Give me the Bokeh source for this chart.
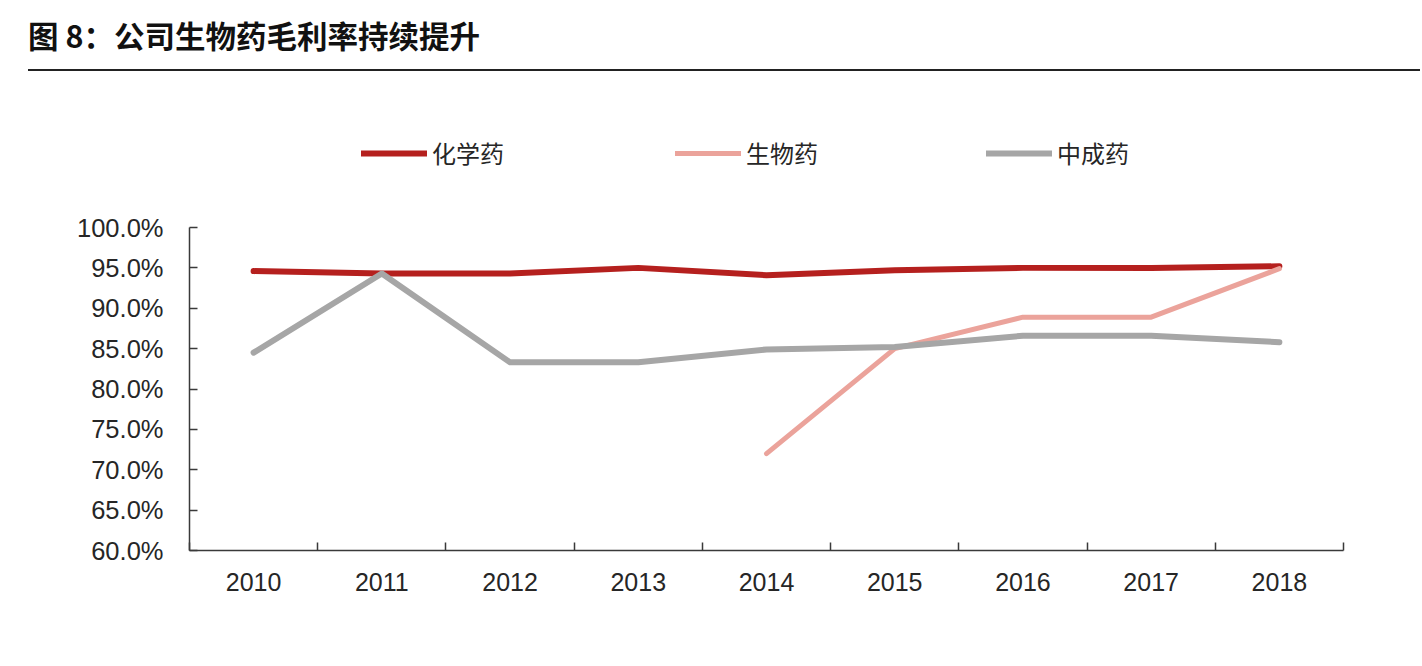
from bokeh.plotting import figure
from bokeh.layouts import column
from bokeh.models import (Range1d, FixedTicker, NumeralTickFormatter, Legend, LegendItem, Div)
from bokeh.embed import file_html
from bokeh.resources import INLINE

# ---- data ----
years = ["2010", "2011", "2012", "2013", "2014", "2015", "2016", "2017", "2018"]
chem = [0.946, 0.943, 0.943, 0.950, 0.941, 0.947, 0.950, 0.950, 0.952]
bio = [None, None, None, None, 0.720, 0.850, 0.889, 0.889, 0.949]
tcm = [0.845, 0.943, 0.833, 0.833, 0.849, 0.852, 0.866, 0.866, 0.858]
y_ticks = [0.60, 0.65, 0.70, 0.75, 0.80, 0.85, 0.90, 0.95, 1.00]
series_names = ["化学药", "生物药", "中成药"]
title_text = "图 8：公司生物药毛利率持续提升"

RED = "#B5201E"
PINK = "#EBA39B"
GRAY = "#A6A6A6"
AXIS = "#3a3a3a"
TXT = "#262626"

W = 1420

# ---- header (title + rule) ----
HH = 72
hdr = Div(width=W, height=HH, margin=(0, 0, 0, 0), text=(
    '<div style="position:relative;width:%dpx;height:%dpx;">'
    '<div style="position:absolute;left:28px;top:17px;white-space:nowrap;'
    'font-family:\'Noto Sans CJK SC\';font-weight:bold;font-size:30.5px;line-height:36px;color:#111;">%s</div>'
    '<div style="position:absolute;left:28px;right:0;top:69px;height:2px;background:#222;"></div>'
    '</div>' % (W, HH, title_text)))

# ---- main chart ----
# plot area extends above 100% to hold the legend; the y axis itself is bounded to 60%-100%
FRAME_TOP = 120      # screen y of frame top
Y100, Y60 = 227, 550  # screen y of 100% and 60%
px_per_unit = (Y60 - Y100) / 0.40
y_end = 1.0 + (Y100 - FRAME_TOP) / px_per_unit
MH = 592
xc = [i + 0.5 for i in range(len(years))]
p = figure(width=W, height=MH, x_range=Range1d(0, len(years)), y_range=Range1d(0.60, y_end),
           output_backend="svg", toolbar_location=None,
           min_border_left=189, min_border_right=W - 1343,
           min_border_top=FRAME_TOP - HH, min_border_bottom=MH - (Y60 - HH))
p.outline_line_color = None
p.xgrid.visible = False
p.ygrid.visible = False

r_chem = p.line(xc, chem, line_color=RED, line_width=6, line_cap="round", line_join="round")
bx = [x for x, v in zip(xc, bio) if v is not None]
by = [v for v in bio if v is not None]
r_bio = p.line(bx, by, line_color=PINK, line_width=5, line_cap="round", line_join="round")
r_tcm = p.line(xc, tcm, line_color=GRAY, line_width=6, line_cap="round", line_join="round")

# x axis
xa = p.xaxis[0]
xa.ticker = FixedTicker(ticks=xc, minor_ticks=list(range(len(years) + 1)))
xa.major_label_overrides = {x: y for x, y in zip(xc, years)}
xa.major_tick_in = 0
xa.major_tick_out = 0
xa.minor_tick_in = 8
xa.minor_tick_out = 0
xa.minor_tick_line_color = AXIS
xa.minor_tick_line_width = 1.5
xa.axis_line_color = AXIS
xa.axis_line_width = 1.5
xa.major_label_standoff = 22
xa.major_label_text_font = "Liberation Sans"
xa.major_label_text_font_size = "25px"
xa.major_label_text_color = TXT

# y axis
ya = p.yaxis[0]
ya.bounds = (0.60, 1.00)
ya.ticker = FixedTicker(ticks=y_ticks)
ya.formatter = NumeralTickFormatter(format="0.0%")
ya.major_tick_in = 8
ya.major_tick_out = 0
ya.minor_tick_line_color = None
ya.major_tick_line_color = AXIS
ya.major_tick_line_width = 1.5
ya.axis_line_color = AXIS
ya.axis_line_width = 1.5
ya.major_label_standoff = 26
ya.major_label_text_font = "Liberation Sans"
ya.major_label_text_font_size = "25.5px"
ya.major_label_text_color = TXT

# legends (one per item, placed like the reference)
for name, rend, lx in zip(series_names, [r_chem, r_bio, r_tcm], [172, 486, 797]):
    lg = Legend(items=[LegendItem(label=name, renderers=[rend])], location=(lx, 380),
                orientation="horizontal", glyph_width=66, glyph_height=34, label_height=34,
                label_standoff=5, padding=0, margin=0, spacing=0,
                border_line_color=None, background_fill_alpha=0,
                label_text_font="Noto Sans CJK SC", label_text_font_size="24px",
                label_text_color=TXT)
    p.add_layout(lg, "center")

layout = column(hdr, p)
open("out.html", "w").write(file_html(layout, INLINE))
